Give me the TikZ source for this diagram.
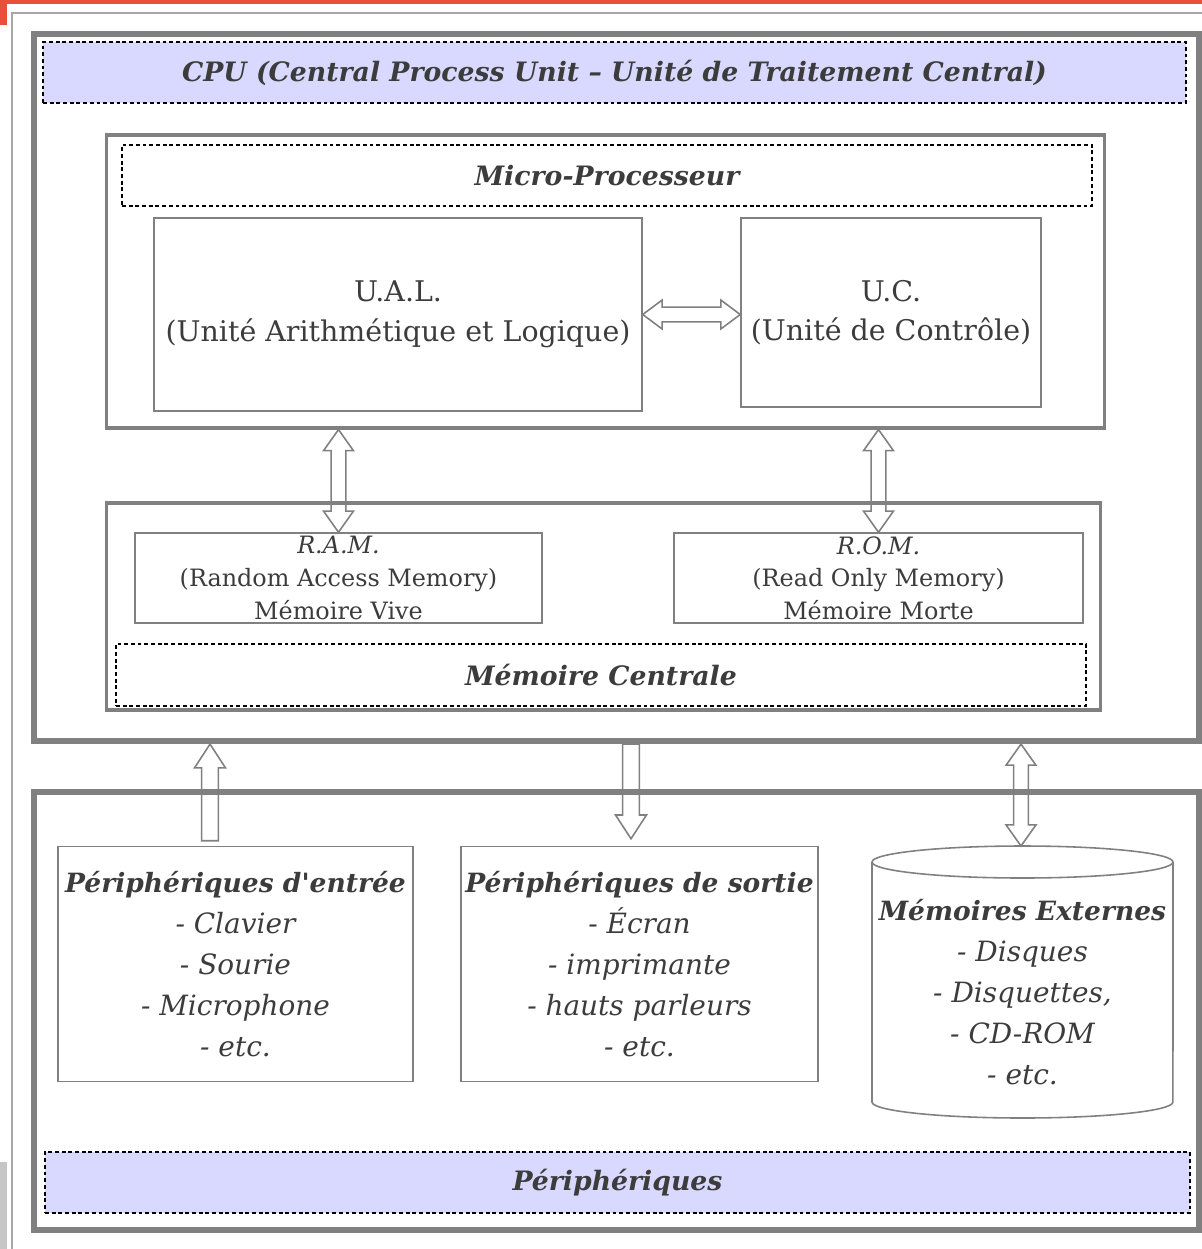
\documentclass[tikz,border=0pt]{standalone}
\usepackage{fontspec}
\setmainfont{DejaVu Serif}[Ligatures=TeXOff]
\usetikzlibrary{calc}

\definecolor{lavande}{HTML}{D9D9FF}
\definecolor{cadre}{HTML}{808080}
\definecolor{texte}{HTML}{3C3C3C}
\definecolor{barre}{HTML}{E8503A}

\newcommand{\entete}[1]{{\fontsize{15.1}{23.4}\selectfont\bfseries #1}}

% fleches creuses entre deux points (haut -> bas ou gauche -> droite)
\newcommand{\flechedouble}[2]{%
  \draw[creux] let \p1=(#1), \p2=(#2) in
    (\x1,\y1) -- (\x1+8.5pt,\y1-12pt) -- (\x1+4.2pt,\y1-12pt) -- (\x1+4.2pt,\y2+12pt) -- (\x1+8.5pt,\y2+12pt) -- (\x1,\y2)
    -- (\x1-8.5pt,\y2+12pt) -- (\x1-4.2pt,\y2+12pt) -- (\x1-4.2pt,\y1-12pt) -- (\x1-8.5pt,\y1-12pt) -- cycle;}
\newcommand{\flechehoriz}[2]{%
  \draw[creux] let \p1=(#1), \p2=(#2) in
    (\x1,\y1) -- (\x1+11pt,\y1+8.2pt) -- (\x1+11pt,\y1+4.2pt) -- (\x2-11pt,\y1+4.2pt) -- (\x2-11pt,\y1+8.2pt) -- (\x2,\y1)
    -- (\x2-11pt,\y1-8.2pt) -- (\x2-11pt,\y1-4.2pt) -- (\x1+11pt,\y1-4.2pt) -- (\x1+11pt,\y1-8.2pt) -- cycle;}
\newcommand{\flechehaut}[2]{%
  \draw[creux] let \p1=(#1), \p2=(#2) in
    (\x1,\y1) -- (\x1+8.8pt,\y1-13.5pt) -- (\x1+4.8pt,\y1-13.5pt) -- (\x1+4.8pt,\y2)
    -- (\x1-4.8pt,\y2) -- (\x1-4.8pt,\y1-13.5pt) -- (\x1-8.8pt,\y1-13.5pt) -- cycle;}
\newcommand{\flechebas}[2]{%
  \draw[creux] let \p1=(#1), \p2=(#2) in
    (\x1,\y2) -- (\x1+8.8pt,\y2+13.5pt) -- (\x1+4.8pt,\y2+13.5pt) -- (\x1+4.8pt,\y1)
    -- (\x1-4.8pt,\y1) -- (\x1-4.8pt,\y2+13.5pt) -- (\x1-8.8pt,\y2+13.5pt) -- cycle;}

\begin{document}
\begin{tikzpicture}[x=0.02cm, y=-0.02cm,
  every node/.style={font=\fontsize{16.2}{22.6}\selectfont, text=texte, align=center, inner sep=0pt},
  grosbloc/.style={draw=cadre, line width=3.6pt},
  bloc/.style={draw=cadre, line width=1.8pt},
  case/.style={draw=cadre, line width=0.9pt},
  titre/.style={draw=black, dash pattern=on 2.2pt off 1.6pt, line width=0.8pt, font=\fontsize{15.2}{20}\selectfont\bfseries\itshape},
  titrefond/.style={titre, fill=lavande},
  memo/.style={font=\fontsize{13.6}{18.6}\selectfont},
  liste/.style={font=\fontsize{15.9}{23.4}\selectfont\itshape},
  creux/.style={draw=cadre, line width=0.9pt}]
\useasboundingbox (0,0) rectangle (1202,1249);

	% bords de la capture
	\fill[barre] (0,0) rectangle (1202,4);
	\fill[barre] (0,0) rectangle (7,25);
	\draw[gray!70, line width=1pt] (12,1249) -- (12,13) -- (1202,13);
	\fill[gray!45] (0,1162) rectangle (7,1249);

	% unite centrale
	\node[grosbloc, minimum width=23.3cm, minimum height=14.14cm] (cpu) at (616.5,387.5) {};
	\node[titrefond, minimum width=22.86cm, minimum height=1.22cm] (cputitre) at (614.5,72.5) {CPU (Central Process Unit – Unité de Traitement Central)};

	\node[bloc, minimum width=19.98cm, minimum height=5.86cm] (micro) at (605.5,281.5) {};
	\node[titre, minimum width=19.4cm, minimum height=1.22cm] (microtitre) at (607,175.5) {Micro-Processeur};
	\node[case, minimum width=9.76cm, minimum height=3.86cm] (ual) at (398,314.5) {U.A.L.\\(Unité Arithmétique et Logique)};
	\node[case, minimum width=6cm, minimum height=3.78cm] (uc) at (891,312.5) {U.C.\\(Unité de Contrôle)};

	\node[bloc, minimum width=19.9cm, minimum height=4.14cm] (memoire) at (603.5,606.5) {};
	\node[case, memo, minimum width=8.14cm, minimum height=1.8cm] (ram) at (338.5,578) {\textit{R.A.M.}\\(Random Access Memory)\\Mémoire Vive};
	\node[case, memo, minimum width=8.18cm, minimum height=1.8cm] (rom) at (878.5,578) {\textit{R.O.M.}\\(Read Only Memory)\\Mémoire Morte};
	\node[titre, minimum width=19.4cm, minimum height=1.24cm] (memtitre) at (601,675) {Mémoire Centrale};

	\flechehoriz{ual.east}{uc.west}
	\flechedouble{ram.north |- micro.south}{ram.north}
	\flechedouble{rom.north |- micro.south}{rom.north}

	% peripheriques
	\node[grosbloc, minimum width=23.3cm, minimum height=8.76cm] (periph) at (616.5,1011) {};
	\node[case, liste, minimum width=7.1cm, minimum height=4.7cm] (entree) at (235.5,964) {\entete{Périphériques d'entrée}\\- Clavier\\- Sourie\\- Microphone\\- etc.};
	\node[case, liste, minimum width=7.14cm, minimum height=4.7cm] (sortie) at (639.5,964) {\entete{Périphériques de sortie}\\- Écran\\- imprimante\\- hauts parleurs\\- etc.};

	\draw[case] (872,862) -- (872,1102) arc[start angle=180, end angle=360, x radius=3.01cm, y radius=0.32cm] -- (1173,862);
	\draw[case] (1022.5,862) ellipse[x radius=3.01cm, y radius=0.32cm];
	\node[liste] (externe) at (1022.5,992) {\entete{Mémoires Externes}\\- Disques\\- Disquettes,\\- CD-ROM\\- etc.};
	\coordinate (disque) at (1021,846);

	\node[titrefond, minimum width=22.9cm, minimum height=1.22cm] (periphtitre) at (617.5,1182.5) {Périphériques};

	\coordinate (e) at ([xshift=-0.51cm, yshift=0.1cm]entree.north);
	\coordinate (s) at ([xshift=-0.17cm, yshift=0.14cm]sortie.north);
	\flechehaut{cpu.south -| e}{e}
	\flechebas{cpu.south -| s}{s}
	\flechedouble{cpu.south -| disque}{disque}
\end{tikzpicture}
\end{document}
